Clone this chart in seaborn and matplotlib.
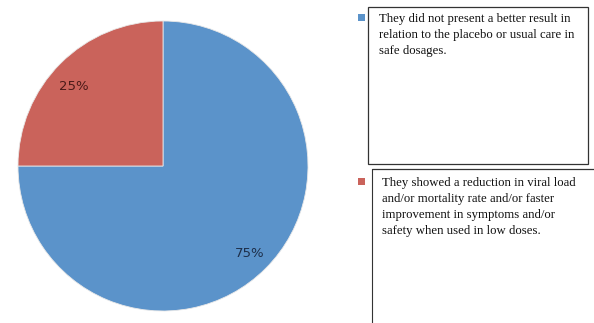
import matplotlib
matplotlib.use("Agg")
import matplotlib.pyplot as plt
import seaborn as sns
from matplotlib.patches import Rectangle
from matplotlib.lines import Line2D

categories = [
    "They did not present a better result in\nrelation to the placebo or usual care in\nsafe dosages.",
    "They showed a reduction in viral load\nand/or mortality rate and/or faster\nimprovement in symptoms and/or\nsafety when used in low doses.",
]
values = [75, 25]
colors = ["#5B93CA", "#CA635B"]
label_colors = ["#1E2F4A", "#4A1A18"]

sns.set_theme(style="white")
W, H = 594, 323
fig = plt.figure(figsize=(W / 100, H / 100), dpi=100)
fig.patch.set_facecolor("white")

def fx(x):
    return x / W

def fy(y):
    return 1 - y / H

cx, cy, r = 163, 166, 145
ax = fig.add_axes([fx(cx - r), fy(cy + r), 2 * r / W, 2 * r / H])
wedges, texts, autotexts = ax.pie(
    values, colors=colors, startangle=90, counterclock=False,
    autopct="%1.0f%%", pctdistance=0.85, radius=1,
    wedgeprops=dict(edgecolor="#e8e8e8", linewidth=0.6),
    textprops=dict(fontsize=9.5, family="DejaVu Sans"),
)
for t, c in zip(autotexts, label_colors):
    t.set_color(c)
# small placement nudge for the smaller slice label
px_, py_ = autotexts[1].get_position()
autotexts[1].set_position((px_ - 0.015, py_ - 0.05))
ax.set_xlim(-1, 1)
ax.set_ylim(-1, 1)
ax.set_aspect("equal")
ax.axis("off")

# Legend entries drawn as separate boxes
boxes = [
    dict(square=(358, 14), text=(379, 13)),
    dict(square=(358, 178), text=(382, 177)),
]
for (cat, col, b) in zip(categories, colors, boxes):
    sx, sy = b["square"]
    fig.patches.append(Rectangle((fx(sx), fy(sy + 7)), 7 / W, 7 / H,
                                 transform=fig.transFigure, facecolor=col,
                                 edgecolor="none"))
    tx, ty = b["text"]
    fig.text(fx(tx), fy(ty), cat, ha="left", va="top", fontsize=9.2,
             family="Liberation Serif", color="#111111", linespacing=1.46)

# box 1 frame
fig.patches.append(Rectangle((fx(368), fy(164)), (588 - 368) / W, (164 - 7) / H,
                             transform=fig.transFigure, facecolor="none",
                             edgecolor="#333333", linewidth=0.9))
# box 2 partial frame
fig.lines.append(Line2D([fx(372), fx(594)], [fy(169), fy(169)],
                        transform=fig.transFigure, color="#333333", linewidth=0.9))
fig.lines.append(Line2D([fx(372), fx(372)], [fy(169), fy(323)],
                        transform=fig.transFigure, color="#333333", linewidth=0.8))

fig.savefig("out.png", dpi=100)
